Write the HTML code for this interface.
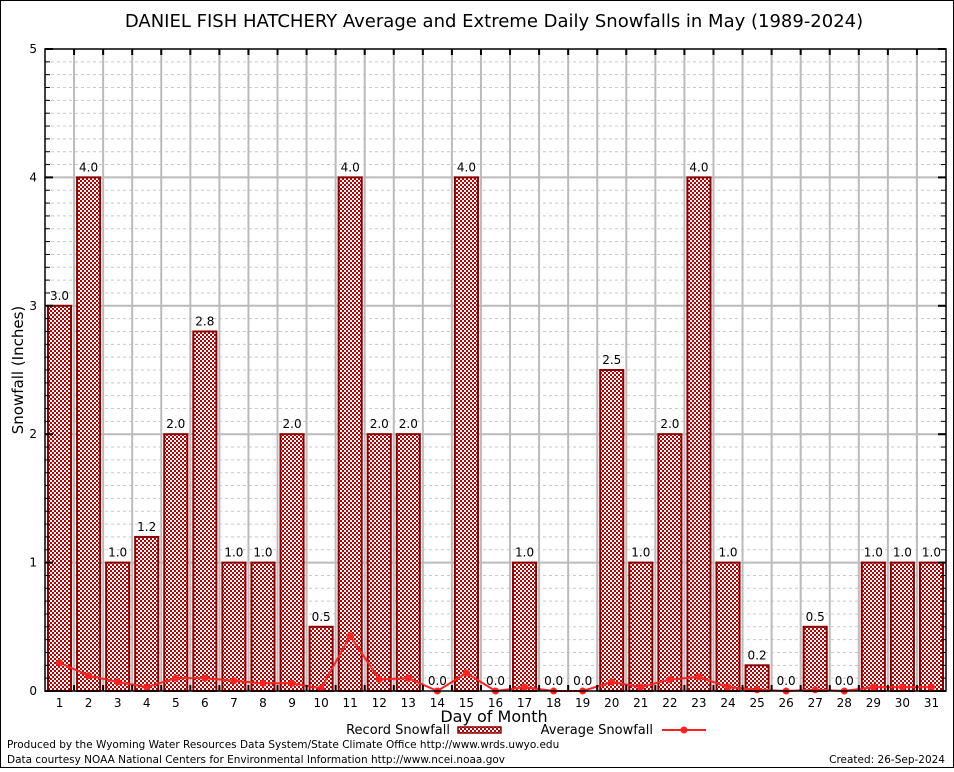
<!DOCTYPE html>
<html><head><meta charset="utf-8"><style>
body{margin:0;background:#fff;font-family:"DejaVu Sans","Liberation Sans",sans-serif}
svg text{font-family:"DejaVu Sans","Liberation Sans",sans-serif}
</style></head><body>
<svg id="c" width="954" height="768" xmlns="http://www.w3.org/2000/svg">
<defs><pattern id="chk" width="4" height="4" patternUnits="userSpaceOnUse"><rect width="4" height="4" fill="#fff"/><rect width="2" height="2" fill="#b80000"/><rect x="2" y="2" width="2" height="2" fill="#b80000"/></pattern></defs>
<rect x="0.5" y="0.5" width="953" height="767" fill="#fff" stroke="#000"/>
<text x="494" y="27" font-size="18" text-anchor="middle">DANIEL FISH HATCHERY Average and Extreme Daily Snowfalls in May (1989-2024)</text>
<g id="grid"></g><g id="bars"></g><g id="avg"></g><g id="axes"></g>
<text transform="translate(23,370) rotate(-90)" font-size="15" text-anchor="middle">Snowfall (Inches)</text>
<text x="494" y="722" font-size="16" text-anchor="middle">Day of Month</text>
<g><text x="450" y="734" font-size="13" text-anchor="end">Record Snowfall</text><rect x="458" y="727" width="43" height="6" fill="url(#chk)" stroke="#8b0000" stroke-width="1.5"/></g>
<g><text x="653" y="734" font-size="13" text-anchor="end">Average Snowfall</text><line x1="662" y1="730" x2="706" y2="730" stroke="#ff2020" stroke-width="2"/><circle cx="684" cy="730" r="3.5" fill="#ff2020"/></g>
<text x="7" y="748" font-size="10.5">Produced by the Wyoming Water Resources Data System/State Climate Office http://www.wrds.uwyo.edu</text>
<text x="7" y="763" font-size="10.5">Data courtesy NOAA National Centers for Environmental Information http://www.ncei.noaa.gov</text>
<text x="945" y="763" font-size="10.5" text-anchor="end">Created:  26-Sep-2024</text>
</svg>
<script>
const days=[1,2,3,4,5,6,7,8,9,10,11,12,13,14,15,16,17,18,19,20,21,22,23,24,25,26,27,28,29,30,31];
const recordSnow=[3.0,4.0,1.0,1.2,2.0,2.8,1.0,1.0,2.0,0.5,4.0,2.0,2.0,0.0,4.0,0.0,1.0,0.0,0.0,2.5,1.0,2.0,4.0,1.0,0.2,0.0,0.5,0.0,1.0,1.0,1.0];
const avgSnow=[0.22,0.12,0.07,0.03,0.10,0.10,0.08,0.06,0.06,0.02,0.43,0.09,0.10,0.0,0.14,0.0,0.03,0.0,0.0,0.07,0.03,0.09,0.11,0.03,0.01,0.0,0.01,0.0,0.03,0.03,0.03];
const yTicks=[0,1,2,3,4,5];
const L=45,R=946,T=49,B=691,yMax=5;
const cw=(R-L)/days.length;
const x=d=>L+(d-0.5)*cw, y=v=>B-(v/yMax)*(B-T);
const NS='http://www.w3.org/2000/svg';
function mk(tag,a,p){const e=document.createElementNS(NS,tag);for(const k in a)e.setAttribute(k,a[k]);p.appendChild(e);return e;}
const G=document.getElementById('grid'),Bg=document.getElementById('bars'),A=document.getElementById('avg'),X=document.getElementById('axes');
for(let i=1;i<yMax*10;i++){if(i%10==0)continue;const e=mk('line',{x1:L,x2:R,y1:y(i/10),y2:y(i/10),stroke:'#c8c8c8','stroke-dasharray':'3,3'},G);
const t=mk('line',{x1:L,x2:L+5,y1:y(i/10),y2:y(i/10),stroke:'#000'},X);
const t2=mk('line',{x1:R-5,x2:R,y1:y(i/10),y2:y(i/10),stroke:'#000'},X);}
for(let k=1;k<days.length;k++){const xx=L+k*cw;const e=mk('line',{x1:xx,x2:xx,y1:T,y2:B,stroke:'#bbb','stroke-width':2},G);
const t=mk('line',{x1:xx,x2:xx,y1:T,y2:T+6,stroke:'#000','stroke-width':2},X);
const t2=mk('line',{x1:xx,x2:xx,y1:B-6,y2:B,stroke:'#000','stroke-width':2},X);}
yTicks.forEach(v=>{if(v>0&&v<yMax){const e=mk('line',{x1:L,x2:R,y1:y(v),y2:y(v),stroke:'#bbb','stroke-width':2},G);}
const t=mk('line',{x1:L,x2:L+8,y1:y(v),y2:y(v),stroke:'#000','stroke-width':2},X);
const t2=mk('line',{x1:R-8,x2:R,y1:y(v),y2:y(v),stroke:'#000','stroke-width':2},X);
const l=mk('text',{x:L-8,y:y(v)+4,'font-size':12,'text-anchor':'end','font-family':'Liberation Serif,serif'},X);l.textContent=v;});
days.forEach((d,i)=>{const v=recordSnow[i];const bw=cw-6;
if(v>0){const r=mk('rect',{x:x(d)-bw/2,y:y(v),width:bw,height:B-y(v),fill:'url(#chk)',stroke:'#8b0000','stroke-width':2},Bg);}
const t=mk('text',{x:x(d),y:y(v)-6,'font-size':12,'text-anchor':'middle'},Bg);t.textContent=v.toFixed(1);
const dl=mk('text',{x:x(d),y:B+16,'font-size':12,'text-anchor':'middle','font-family':'Liberation Serif,serif'},X);dl.textContent=d;});
const pl=mk('polyline',{points:days.map((d,i)=>x(d)+','+y(avgSnow[i])).join(' '),fill:'none',stroke:'#ff2020','stroke-width':2},A);
days.forEach((d,i)=>{const c=mk('circle',{cx:x(d),cy:y(avgSnow[i]),r:3.5,fill:'#ff2020'},A);});
const fr=mk('rect',{x:L,y:T,width:R-L,height:B-T,fill:'none',stroke:'#000','stroke-width':1.5},X);
</script>
</body></html>
